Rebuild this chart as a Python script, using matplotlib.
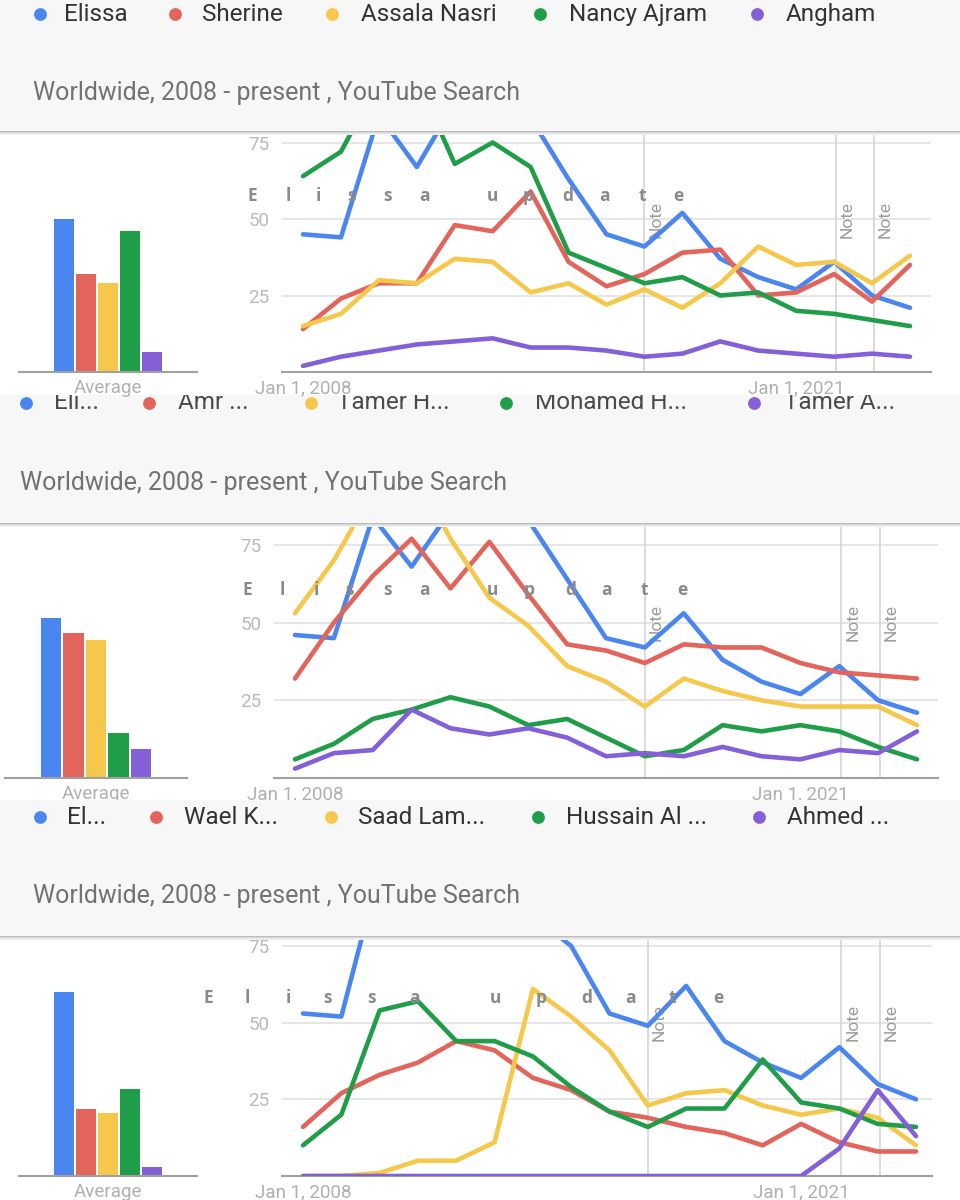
import matplotlib
matplotlib.use('Agg')
import matplotlib.pyplot as plt
from matplotlib.patches import Rectangle
from matplotlib.lines import Line2D
from matplotlib import transforms

W, H = 960, 1200
years = [2008, 2009, 2010, 2011, 2012, 2013, 2014, 2015, 2016, 2017, 2018,
         2019, 2020, 2021, 2022, 2023, 2024]
colors = ['#4a86f0', '#e2645a', '#f5c84c', '#1f9d48', '#8360d8']
x_tick_years = [2008, 2021]
x_tick_labels = ['Jan 1, 2008', 'Jan 1, 2021']
note_years = [2017, 2022.05, 2023.05]
subtitle = 'Worldwide, 2008 - present , YouTube Search'
watermark = ['E', 'l', 'i', 's', 's', 'a', 'u', 'p', 'd', 'a', 't', 'e']

# ---- panel 1 ----
p1_names = ['Elissa', 'Sherine', 'Assala Nasri', 'Nancy Ajram', 'Angham']
p1_elissa = [45, 44, 84, 67, 88, 95, 83, 63, 45, 41, 52, 37, 31, 27, 36, 25, 21]
p1_sherine = [14, 24, 29, 29, 48, 46, 59, 36, 28, 32, 39, 40, 25, 26, 32, 23, 35]
p1_assala = [15, 19, 30, 29, 37, 36, 26, 29, 22, 27, 21, 29, 41, 35, 36, 29, 38]
p1_nancy = [64, 72, 95, 96, 68, 75, 67, 39, 34, 29, 31, 25, 26, 20, 19, 17, 15]
p1_angham = [2, 5, 7, 9, 10, 11, 8, 8, 7, 5, 6, 10, 7, 6, 5, 6, 5]
p1_avg = [50, 32, 29, 46, 6.6]

# ---- panel 2 ----
p2_names = ['Eli...', 'Amr ...', 'Tamer H...', 'Mohamed H...', 'Tamer A...']
p2_eli = [46, 45, 84, 68, 86, 92, 83, 64, 45, 42, 53, 38, 31, 27, 36, 25, 21]
p2_amr = [32, 50, 65, 77, 61, 76, 59, 43, 41, 37, 43, 42, 42, 37, 34, 33, 32]
p2_tamer_h = [53, 70, 92, 100, 77, 58, 49, 36, 31, 23, 32, 28, 25, 23, 23, 23, 17]
p2_mohamed = [6, 11, 19, 22, 26, 23, 17, 19, 13, 7, 9, 17, 15, 17, 15, 10, 6]
p2_tamer_a = [3, 8, 9, 22, 16, 14, 16, 13, 7, 8, 7, 10, 7, 6, 9, 8, 15]
p2_avg = [51.5, 46.7, 44.4, 14.5, 9.3]

# ---- panel 3 ----
p3_names = ['El...', 'Wael K...', 'Saad Lam...', 'Hussain Al ...', 'Ahmed ...']
p3_el = [53, 52, 100, 95, 92, 90, 85, 75, 53, 49, 62, 44, 37, 32, 42, 30, 25]
p3_wael = [16, 27, 33, 37, 44, 41, 32, 28, 21, 19, 16, 14, 10, 17, 11, 8, 8]
p3_saad = [0, 0, 1, 5, 5, 11, 61, 52, 41, 23, 27, 28, 23, 20, 22, 19, 10]
p3_hussain = [10, 20, 54, 57, 44, 44, 39, 29, 21, 16, 22, 22, 38, 24, 22, 17, 16]
p3_ahmed = [0, 0, 0, 0, 0, 0, 0, 0, 0, 0, 0, 0, 0, 0, 9, 28, 13]
p3_avg = [60, 22, 20.5, 28.5, 3]

plt.rcParams['font.family'] = ['Roboto', 'DejaVu Sans']
fig = plt.figure(figsize=(W / 100, H / 100), dpi=100)
fig.patch.set_facecolor('white')


def fy(y):
    return 1 - y / H


def px_axes(left, right, top, bottom):
    return fig.add_axes([left / W, 1 - bottom / H, (right - left) / W, (bottom - top) / H])


def header(top, bottom, z):
    fig.add_artist(Rectangle((0, fy(bottom)), 1, (bottom - top) / H, transform=fig.transFigure,
                             facecolor='#f7f7f7', edgecolor='none', zorder=z))
    shades = ['#bdbdbd', '#d6d6d6', '#e6e6e6', '#f2f2f2']
    for i, c in enumerate(shades):
        fig.add_artist(Rectangle((0, fy(bottom + i + 1)), 1, 1 / H, transform=fig.transFigure,
                                 facecolor=c, edgecolor='none', zorder=z))


def legend_row(names, dot_x, text_x, baseline, dot_y, z, tcolor):
    for name, c, dx, tx in zip(names, colors, dot_x, text_x):
        fig.add_artist(Line2D([dx / W], [fy(dot_y)], marker='o', markersize=9.2, color=c,
                              markeredgewidth=0, linestyle='none', transform=fig.transFigure,
                              zorder=z))
        fig.text(tx / W, fy(baseline), name, fontsize=17.5, color=tcolor, ha='left',
                 va='baseline', zorder=z)


def watermark_row(xs, y, z):
    for ch, x in zip(watermark, xs):
        fig.text(x / W, fy(y), ch, fontsize=12.5, fontweight='bold', family='Open Sans',
                 color='#8a8a8a', ha='center', va='center', zorder=z)


def line_panel(series, avg, L, R, B, s, x0px, x1px, bL, bR, bar_step, z):
    step = (x1px - x0px) / (years[-1] - years[0])
    top = B - 100 * s
    ax = px_axes(L, R, top, B)
    ax.set_zorder(z)
    ax.patch.set_alpha(0)
    for vals, c in zip(series, colors):
        ax.plot(years, vals, color=c, lw=3.3, solid_joinstyle='round', solid_capstyle='round',
                zorder=3)
    ax.set_xlim(years[0] - (x0px - L) / step, years[-1] + (R - x1px) / step)
    ax.set_ylim(0, 100)
    ax.set_yticks([25, 50, 75])
    ax.yaxis.grid(True, color='#e4e4e4', lw=1.3)
    ax.set_axisbelow(True)
    for sp in ['top', 'right', 'left']:
        ax.spines[sp].set_visible(False)
    ax.spines['bottom'].set_color('#a0a0a0')
    ax.spines['bottom'].set_linewidth(1.5)
    ax.tick_params(axis='y', length=0, pad=9, labelsize=13.5, labelcolor='#bababa')
    ax.set_xticks(x_tick_years)
    ax.set_xticklabels(x_tick_labels)
    ax.tick_params(axis='x', length=0, pad=5, labelsize=13.5, labelcolor='#b0b0b0')
    off = transforms.offset_copy(ax.transData, fig=fig, x=4, y=0, units='dots')
    for ny in note_years:
        ax.axvline(ny, color='#d2d2d2', lw=1.1, zorder=1)
        ax.text(ny, 50, 'Note', transform=off, rotation=90, ha='left', va='center',
                fontsize=12.5, color='#9c9c9c', zorder=2)

    bx = px_axes(bL, bR, top, B)
    bx.set_zorder(z)
    bx.patch.set_alpha(0)
    idx = list(range(len(avg)))
    bx.bar(idx, avg, width=0.9, color=colors, zorder=2)
    n = (bR - bL) / bar_step
    bx.set_xlim(2 - n / 2, 2 + n / 2)
    bx.set_ylim(0, 100)
    for sp in ['top', 'right', 'left']:
        bx.spines[sp].set_visible(False)
    bx.spines['bottom'].set_color('#a0a0a0')
    bx.spines['bottom'].set_linewidth(1.5)
    bx.set_yticks([])
    bx.set_xticks([2])
    bx.set_xticklabels(['Average'])
    bx.tick_params(axis='x', length=0, pad=5, labelsize=13.5, labelcolor='#b0b0b0')


# ---------------- panel 3 (bottom) ----------------
line_panel([p3_el, p3_wael, p3_saad, p3_hussain, p3_ahmed], p3_avg,
           L=282, R=932, B=1176, s=3.066, x0px=303, x1px=916,
           bL=19, bR=197, bar_step=21.9, z=1)
watermark_row([208, 247, 288, 327, 371, 414, 495, 541, 587, 630, 672, 718], 998, 1.5)
header(800, 936, 3.5)
legend_row(p3_names, [40, 156, 331, 538, 759], [67, 184, 358, 566, 787], 824, 817, 3.6, '#333333')
fig.text(33 / W, fy(903), subtitle, fontsize=18, color='#727272', ha='left', va='baseline',
         zorder=3.6)

# ---------------- panel 2 (middle) ----------------
line_panel([p2_eli, p2_amr, p2_tamer_h, p2_mohamed, p2_tamer_a], p2_avg,
           L=274, R=938, B=778, s=3.108, x0px=295, x1px=917,
           bL=5, bR=187, bar_step=22.5, z=3)
watermark_row([247, 282, 316, 350, 387, 424, 492, 529, 571, 607, 644, 682], 590, 3.2)
header(393, 523, 4)
legend_row(p2_names, [26, 149, 311, 506, 754], [54, 178, 337, 535, 784], 409, 403, 4.1, '#4a4a4a')
fig.text(20 / W, fy(490), subtitle, fontsize=18, color='#727272', ha='left', va='baseline',
         zorder=4.1)
fig.add_artist(Rectangle((0, fy(395)), 1, 17 / H, transform=fig.transFigure,
                         facecolor='white', edgecolor='none', zorder=4.2))

# ---------------- panel 1 (top) ----------------
line_panel([p1_elissa, p1_sherine, p1_assala, p1_nancy, p1_angham], p1_avg,
           L=282, R=931, B=372, s=3.06, x0px=303, x1px=910,
           bL=19, bR=197, bar_step=22.0, z=6)
watermark_row([252, 288, 318, 352, 388, 425, 492, 528, 568, 605, 642, 678], 196, 6.5)
header(0, 131, 7)
legend_row(p1_names, [40, 175, 332, 540, 757], [64, 202, 361, 569, 786], 21, 14, 7.1, '#333333')
fig.text(33 / W, fy(100), subtitle, fontsize=18, color='#727272', ha='left', va='baseline',
         zorder=7.1)

fig.savefig('out.png', dpi=100, facecolor='white')
